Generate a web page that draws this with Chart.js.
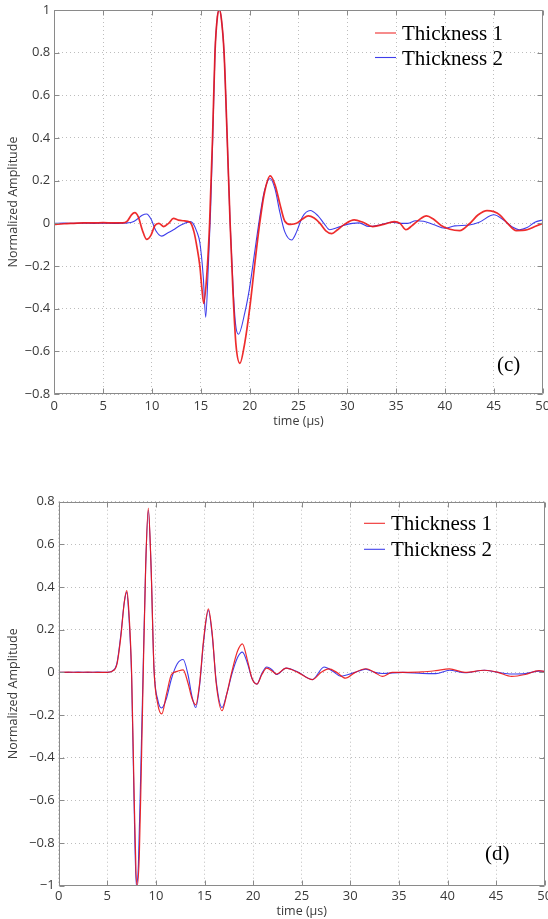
<!DOCTYPE html>
<html><head><meta charset="utf-8">
<script src="https://cdn.jsdelivr.net/npm/chart.js@4.4.0/dist/chart.umd.min.js"></script>
<style>
html,body{margin:0;padding:0;background:#fff;width:548px;height:919px;overflow:hidden}
canvas{position:absolute;left:0}
#c1{top:0}
#c2{top:470px}
</style></head><body>
<canvas id="c1" width="548" height="440" style="width:548px;height:440px"></canvas>
<canvas id="c2" width="548" height="449" style="width:548px;height:449px"></canvas>
<script>
// ---- data (time in µs, normalized amplitude) ----
const seriesNames = ['Thickness 1', 'Thickness 2'];
const xTitle = 'time (\u03bcs)';
const yTitle = 'Normalized Amplitude';
const xTickStep = 5;
const yTickStep = 0.2;
const panelLabels = ['(c)', '(d)'];

const c_thickness1 = [[0,-0.005],[1,-0.002],[2,0],[3,0.002],[4,0.002],[5,0.003],[6,0.002],[7,0.002],[7.5,0.012],[7.9,0.04],[8.25,0.05],[8.6,0.03],[9.0,-0.03],[9.45,-0.075],[9.9,-0.055],[10.3,-0.01],[10.7,0.0],[11.2,-0.015],[11.7,0.0],[12.2,0.023],[12.7,0.015],[13.2,0.012],[13.9,0.005],[14.3,-0.04],[14.6,-0.11],[14.9,-0.2],[15.1,-0.3],[15.3,-0.375],[15.6,-0.25],[15.9,0.0],[16.2,0.4],[16.45,0.8],[16.7,0.97],[16.9,1.0],[17.1,0.96],[17.38,0.8],[17.7,0.4],[18.0,0.0],[18.3,-0.33],[18.6,-0.57],[19.0,-0.656],[19.5,-0.56],[20.0,-0.4],[20.5,-0.2],[21.0,-0.01],[21.5,0.14],[22.1,0.222],[22.6,0.18],[23.1,0.09],[23.6,0.01],[24.2,-0.005],[24.8,0.0],[25.4,0.02],[26.0,0.035],[26.6,0.025],[27.2,0.0],[27.8,-0.035],[28.4,-0.048],[29.0,-0.03],[29.7,-0.005],[30.7,0.016],[31.6,0.005],[32.6,-0.015],[33.7,-0.005],[34.8,0.008],[35.4,0.0],[36.0,-0.03],[36.6,-0.012],[37.3,0.015],[38.1,0.035],[38.8,0.02],[39.6,-0.01],[40.5,-0.028],[41.5,-0.034],[42.5,-0.002],[43.4,0.04],[44.3,0.06],[45.0,0.055],[45.6,0.04],[46.4,0.0],[47.3,-0.034],[48.4,-0.03],[49.2,-0.015],[50,0.0]];

const c_thickness2 = [[0,0],[1,0.001],[2,0],[3,0.001],[4,0],[5,0.001],[6,0],[7,0.001],[7.5,0.002],[8.0,0.006],[8.5,0.02],[9.0,0.038],[9.45,0.044],[9.9,0.02],[10.4,-0.035],[11.0,-0.06],[11.6,-0.045],[12.2,-0.03],[12.7,-0.015],[13.2,-0.003],[13.9,0.008],[14.2,0.0],[14.6,-0.04],[14.9,-0.09],[15.25,-0.25],[15.5,-0.44],[15.75,-0.22],[16.0,0.06],[16.25,0.45],[16.45,0.8],[16.7,0.97],[16.9,1.0],[17.1,0.96],[17.38,0.8],[17.7,0.4],[18.0,0.0],[18.3,-0.3],[18.55,-0.47],[18.85,-0.52],[19.5,-0.42],[20.0,-0.3],[20.5,-0.14],[21.0,0.02],[21.5,0.15],[22.1,0.21],[22.6,0.16],[23.1,0.05],[23.6,-0.04],[24.3,-0.078],[24.8,-0.04],[25.4,0.03],[26.2,0.06],[27.0,0.035],[27.6,0.0],[28.2,-0.03],[29.0,-0.02],[29.6,-0.01],[30.5,0.0],[31.2,0.002],[32.2,-0.015],[33.3,-0.008],[34.5,0.005],[35.5,0.0],[36.2,0.0],[37.0,0.012],[37.8,0.01],[38.8,-0.005],[40.0,-0.023],[41.0,-0.012],[42.5,-0.008],[43.5,0.005],[45.0,0.04],[46.0,0.015],[47.0,-0.02],[47.6,-0.03],[48.4,-0.02],[49.2,0.005],[50,0.016]];

const d_thickness1 = [[0,0],[1,0.001],[2,0],[3,0.001],[4,0],[5,0],[5.5,0.005],[6.0,0.04],[6.4,0.17],[6.75,0.33],[7.0,0.383],[7.2,0.3],[7.5,0.0],[7.75,-0.55],[7.95,-0.93],[8.08,-1.0],[8.3,-0.85],[8.5,-0.45],[8.7,0.0],[8.95,0.5],[9.22,0.77],[9.5,0.5],[9.8,0.02],[10.2,-0.15],[10.6,-0.195],[11.1,-0.1],[11.6,-0.01],[12.2,0.005],[12.8,0.012],[13.3,-0.05],[13.7,-0.12],[14.1,-0.152],[14.5,-0.05],[14.9,0.15],[15.4,0.298],[15.8,0.18],[16.2,-0.05],[16.8,-0.18],[17.3,-0.1],[17.8,0.0],[18.4,0.1],[18.9,0.134],[19.4,0.06],[19.9,-0.03],[20.4,-0.055],[20.9,-0.01],[21.4,0.02],[22.0,0.005],[22.4,-0.008],[23.4,0.02],[24.6,0.0],[26.1,-0.034],[27.0,0.0],[27.8,0.016],[28.6,0.0],[29.5,-0.027],[30.5,0.0],[31.6,0.017],[32.5,0.0],[33.3,-0.019],[34.3,0.0],[35.4,0.0],[37.4,0.002],[38.8,0.008],[40.2,0.016],[41.8,0.0],[43.8,0.01],[45.2,0.0],[46.6,-0.019],[48.0,-0.01],[49.4,0.008],[50,0.005]];

const d_thickness2 = [[0,0],[1,0],[2,0.001],[3,0],[4,0.001],[5,0],[5.5,0.006],[6.0,0.045],[6.4,0.18],[6.75,0.33],[7.0,0.375],[7.2,0.28],[7.5,-0.02],[7.75,-0.6],[7.98,-1.0],[8.2,-0.9],[8.45,-0.45],[8.68,0.0],[8.95,0.5],[9.22,0.76],[9.5,0.5],[9.8,0.02],[10.2,-0.13],[10.6,-0.167],[11.1,-0.12],[11.6,-0.03],[12.2,0.04],[12.8,0.06],[13.3,-0.01],[13.7,-0.11],[14.1,-0.165],[14.5,-0.06],[14.9,0.14],[15.4,0.29],[15.8,0.17],[16.2,-0.04],[16.8,-0.165],[17.3,-0.1],[17.8,-0.01],[18.4,0.07],[18.9,0.095],[19.4,0.045],[19.9,-0.03],[20.4,-0.055],[20.9,-0.005],[21.4,0.025],[22.0,0.01],[22.4,-0.01],[23.4,0.02],[24.6,0.002],[26.1,-0.034],[27.3,0.025],[28.2,0.005],[29.0,-0.018],[30.5,0.0],[31.6,0.015],[32.5,0.0],[33.3,-0.005],[35.4,0.0],[37.4,-0.005],[38.8,-0.006],[40.2,0.01],[41.8,-0.002],[43.8,0.01],[45.2,0.0],[46.6,-0.008],[48.0,-0.006],[49.4,0.006],[50,0.005]];

// ---- styling ----
const RED = 'rgba(236,22,22,0.9)';
const BLUE = 'rgba(28,28,232,0.85)';
const TICK_COL = '#3a3a3a';
const GRID_COL = '#bdbdbd';
const FRAME_COL = '#8a8a8a';
const SANS = "'Open Sans', 'DejaVu Sans', sans-serif";
const SERIF = "'Liberation Serif', 'Times New Roman', serif";

function fmt(v) {
  if (Math.abs(v) < 1e-9) return '0';
  const s = String(+Math.abs(v).toFixed(2));
  return (v < 0 ? '\u2212' : '') + s;
}

const framePlugin = {
  id: 'frame',
  afterDraw(chart, args, opts) {
    const ctx = chart.ctx;
    const {left, top, right, bottom} = chart.chartArea;
    ctx.save();
    ctx.strokeStyle = FRAME_COL;
    ctx.lineWidth = 1;
    ctx.setLineDash([]);
    ctx.beginPath();
    const L = Math.round(left) + 0.5, R = Math.round(right) - 0.5;
    const T = Math.round(top) + 0.5, B = Math.round(bottom) - 0.5;
    ctx.rect(L, T, R - L, B - T);
    ctx.stroke();
    const tl = 5;
    ctx.beginPath();
    chart.scales.x.ticks.forEach(t => {
      const px = Math.round(chart.scales.x.getPixelForValue(t.value)) + 0.5;
      ctx.moveTo(px, B); ctx.lineTo(px, B - tl);
      ctx.moveTo(px, T); ctx.lineTo(px, T + tl);
    });
    chart.scales.y.ticks.forEach(t => {
      const py = Math.round(chart.scales.y.getPixelForValue(t.value)) + 0.5;
      ctx.moveTo(L, py); ctx.lineTo(L + tl, py);
      ctx.moveTo(R, py); ctx.lineTo(R - tl, py);
    });
    ctx.stroke();
    // legend
    ctx.font = '21px ' + SERIF;
    ctx.fillStyle = '#000';
    ctx.textBaseline = 'alphabetic';
    ctx.textAlign = 'left';
    chart.data.datasets.forEach((ds, i) => {
      const ly = opts.legY + i * opts.legStep;
      ctx.strokeStyle = ds.borderColor;
      ctx.lineWidth = 1.1;
      ctx.beginPath();
      ctx.moveTo(opts.legX, ly); ctx.lineTo(opts.legX + 21, ly);
      ctx.stroke();
      ctx.fillText(ds.label, opts.legX + 27, ly + 7);
    });
    ctx.fillText(opts.panel, opts.panelX, opts.panelY);
    ctx.restore();
  }
};

function makeChart(id, s1, s2, cfg) {
  const toXY = arr => arr.map(p => ({x: p[0], y: p[1]}));
  return new Chart(document.getElementById(id), {
    type: 'line',
    data: {
      datasets: [
        {label: seriesNames[0], data: toXY(s1), borderColor: RED, borderWidth: cfg.redW, pointRadius: 0, cubicInterpolationMode: 'monotone', fill: false},
        {label: seriesNames[1], data: toXY(s2), borderColor: BLUE, borderWidth: 1.1, pointRadius: 0, cubicInterpolationMode: 'monotone', fill: false}
      ]
    },
    options: {
      responsive: false,
      animation: false,
      devicePixelRatio: 1,
      layout: {padding: {top: cfg.top, right: cfg.right, left: 0, bottom: 0}},
      plugins: {
        legend: {display: false},
        tooltip: {enabled: false},
        frame: cfg.frame
      },
      scales: {
        x: {
          type: 'linear', min: 0, max: 50,
          ticks: {stepSize: xTickStep, color: TICK_COL, font: {family: SANS, size: 13}, padding: cfg.xPad, maxRotation: 0, autoSkip: false, callback: v => fmt(v)},
          grid: {color: GRID_COL, lineWidth: 1, drawTicks: false},
          border: {display: false, dash: [1, 3]},
          title: {display: true, text: xTitle, color: TICK_COL, font: {family: SANS, size: 12.5}, padding: {top: 0, bottom: cfg.xTitlePad}},
          afterFit(s) { s.height = cfg.xH; s.paddingLeft = 0; s.paddingRight = 0; }
        },
        y: {
          type: 'linear', min: cfg.ymin, max: cfg.ymax,
          ticks: {stepSize: yTickStep, color: TICK_COL, font: {family: SANS, size: 13}, padding: 4, autoSkip: false, callback: v => fmt(v)},
          grid: {color: GRID_COL, lineWidth: 1, drawTicks: false},
          border: {display: false, dash: [1, 3]},
          title: {display: true, text: yTitle, color: TICK_COL, font: {family: SANS, size: 12.5}, padding: {top: 6, bottom: 0}},
          afterFit(s) { s.width = cfg.yW; s.paddingTop = 0; s.paddingBottom = 0; }
        }
      }
    },
    plugins: [framePlugin]
  });
}

makeChart('c1', c_thickness1, c_thickness2, {
  top: 10, right: 5.3, xH: 46, yW: 54.3, xPad: 4, xTitlePad: 11, ymin: -0.8, ymax: 1, redW: 1.7,
  frame: {legX: 375, legY: 33, legStep: 24.5, panel: panelLabels[0], panelX: 497, panelY: 371}
});
makeChart('c2', d_thickness1, d_thickness2, {
  top: 31.7, right: 3.3, xH: 33.3, yW: 58.7, xPad: 3, xTitlePad: 0, ymin: -1, ymax: 0.8, redW: 1.2,
  frame: {legX: 364, legY: 53.3, legStep: 26, panel: panelLabels[1], panelX: 485, panelY: 390}
});
</script>
</body></html>
